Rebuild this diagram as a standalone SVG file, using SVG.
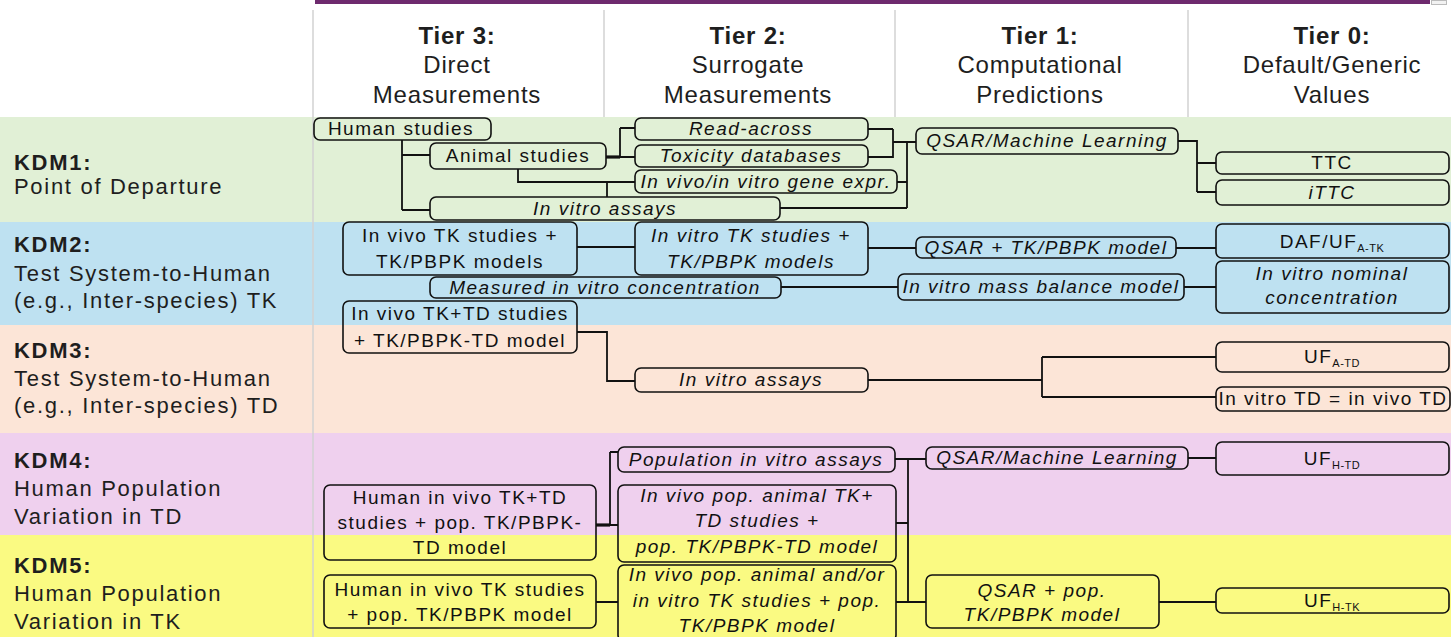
<svg xmlns="http://www.w3.org/2000/svg" width="1451" height="637" viewBox="0 0 1451 637">
  <style>
    .hdr { font-family: "Liberation Sans", Arial, sans-serif; font-size: 24px; fill: #1e1e1e; text-anchor: middle; letter-spacing: 0.8px; }
    .kdm { font-family: "Liberation Sans", Arial, sans-serif; font-size: 22px; fill: #1e1e1e; letter-spacing: 1.7px; }
    .b { font-weight: bold; }
    .node rect { fill: none; stroke: #111; stroke-width: 1.6; }
    .node text { font-family: "Liberation Sans", Arial, sans-serif; font-size: 19px; fill: #111; text-anchor: middle; letter-spacing: 1.5px; }
    .node text.it { font-style: italic; }
    .sub { font-size: 11px; letter-spacing: 0.5px; }
    .conn path { fill: none; stroke: #111; stroke-width: 1.8; }
    .conn path.thick { stroke-width: 3.2; }
    .divider { stroke: #d2d2d2; stroke-width: 1.5; }
  </style>

  <!-- background and KDM bands -->
  <rect x="0" y="0" width="1451" height="637" fill="#ffffff"/>
  <g id="bands">
    <rect x="0" y="117" width="1451" height="105" fill="#e1f0d6"/>
    <rect x="0" y="222" width="1451" height="103" fill="#bee1f1"/>
    <rect x="0" y="325" width="1451" height="108" fill="#fce5d7"/>
    <rect x="0" y="433" width="1451" height="102" fill="#efd0ee"/>
    <rect x="0" y="535" width="1451" height="102" fill="#fafa82"/>
  </g>

  <!-- top rule and column dividers -->
  <rect x="315" y="0" width="1115" height="4" fill="#6e2a6e"/>
  <rect x="1431.5" y="0.5" width="15" height="4" fill="#f2f2f2" stroke="#bbbbbb" stroke-width="1"/>
  <line class="divider" x1="313" y1="10" x2="313" y2="637"/>
  <line class="divider" x1="604" y1="10" x2="604" y2="117"/>
  <line class="divider" x1="895" y1="10" x2="895" y2="117"/>
  <line class="divider" x1="1188" y1="10" x2="1188" y2="117"/>

  <!-- tier headers -->
  <g id="tier-headers">
    <text class="hdr" x="457" y="44"><tspan class="b">Tier 3:</tspan><tspan x="457" y="73">Direct</tspan><tspan x="457" y="103">Measurements</tspan></text>
    <text class="hdr" x="748" y="44"><tspan class="b">Tier 2:</tspan><tspan x="748" y="73">Surrogate</tspan><tspan x="748" y="103">Measurements</tspan></text>
    <text class="hdr" x="1040" y="44"><tspan class="b">Tier 1:</tspan><tspan x="1040" y="73">Computational</tspan><tspan x="1040" y="103">Predictions</tspan></text>
    <text class="hdr" x="1332" y="44"><tspan class="b">Tier 0:</tspan><tspan x="1332" y="73">Default/Generic</tspan><tspan x="1332" y="103">Values</tspan></text>
  </g>

  <!-- row labels -->
  <g id="kdm-labels">
    <text class="kdm" x="14" y="170"><tspan class="b">KDM1:</tspan><tspan x="14" y="194">Point of Departure</tspan></text>
    <text class="kdm" x="14" y="252"><tspan class="b">KDM2:</tspan><tspan x="14" y="281">Test System-to-Human</tspan><tspan x="14" y="308">(e.g., Inter-species) TK</tspan></text>
    <text class="kdm" x="14" y="358"><tspan class="b">KDM3:</tspan><tspan x="14" y="386">Test System-to-Human</tspan><tspan x="14" y="413">(e.g., Inter-species) TD</tspan></text>
    <text class="kdm" x="14" y="468"><tspan class="b">KDM4:</tspan><tspan x="14" y="496">Human Population</tspan><tspan x="14" y="524">Variation in TD</tspan></text>
    <text class="kdm" x="14" y="573"><tspan class="b">KDM5:</tspan><tspan x="14" y="601">Human Population</tspan><tspan x="14" y="629">Variation in TK</tspan></text>
  </g>

  <!-- connectors -->
  <g id="connectors" class="conn">
    <!-- KDM1 -->
    <path d="M402 140 V210 M402 155 H430 M402 210 H430"/>
    <path class="thick" d="M606 157 H620"/>
    <path d="M620 128 V158 M620 128 H635 M620 157 H635"/>
    <path d="M518 169 V182 H635 M607 182 V197"/>
    <path d="M868 129 H893 M868 157 H893 M893 129 V158 M893 142 H916"/>
    <path d="M897 182 H907 M907 142 V208 M780 208 H907"/>
    <path d="M1178 141 H1197 V192 M1197 163 H1216 M1197 192 H1216"/>
    <!-- KDM2 -->
    <path d="M577 247 H635 M868 248 H916 M1176 248 H1216"/>
    <path d="M781 287 H898 M1184 287 H1216"/>
    <!-- KDM3 -->
    <path d="M577 332 H607 V381 H635"/>
    <path d="M868 380 H1042 M1042 357 V397 M1042 357 H1216 M1042 397 H1216"/>
    <!-- KDM4 / KDM5 -->
    <path class="thick" d="M596 525 H610"/>
    <path d="M610 452 V525 M610 452 H618 M610 525 H618"/>
    <path d="M895 459 H926 M908 459 V602 M896 523 H908 M896 602 H926 M596 602 H618"/>
    <path d="M1188 458 H1216 M1159 602 H1216"/>
  </g>

  <!-- KDM1 nodes -->
  <g id="n-human-studies" class="node"><rect x="314" y="118" width="177" height="22" rx="6"/><text x="401" y="135">Human studies</text></g>
  <g id="n-animal-studies" class="node"><rect x="430" y="143" width="176" height="26" rx="6"/><text x="518" y="162">Animal studies</text></g>
  <g id="n-read-across" class="node"><rect x="635" y="118" width="233" height="22" rx="6"/><text class="it" x="751" y="135">Read-across</text></g>
  <g id="n-toxicity-db" class="node"><rect x="635" y="145" width="233" height="22" rx="6"/><text class="it" x="751" y="162">Toxicity databases</text></g>
  <g id="n-gene-expr" class="node"><rect x="635" y="170" width="262" height="23" rx="6"/><text class="it" x="766" y="188">In vivo/in vitro gene expr.</text></g>
  <g id="n-invitro-assays-1" class="node"><rect x="430" y="197" width="350" height="23" rx="6"/><text class="it" x="605" y="215">In vitro assays</text></g>
  <g id="n-qsar-ml-1" class="node"><rect x="916" y="128" width="262" height="26" rx="6"/><text class="it" x="1047" y="147">QSAR/Machine Learning</text></g>
  <g id="n-ttc" class="node"><rect x="1216" y="152" width="233" height="22" rx="6"/><text x="1332" y="169">TTC</text></g>
  <g id="n-ittc" class="node"><rect x="1216" y="180" width="233" height="25" rx="6"/><text class="it" x="1332" y="199">iTTC</text></g>

  <!-- KDM2 nodes -->
  <g id="n-invivo-tk" class="node"><rect x="343" y="222" width="234" height="53" rx="6"/><text x="460" y="242">In vivo TK studies +<tspan x="460" y="268">TK/PBPK models</tspan></text></g>
  <g id="n-invitro-tk" class="node"><rect x="635" y="222" width="233" height="53" rx="6"/><text class="it" x="751" y="242">In vitro TK studies +<tspan x="751" y="268">TK/PBPK models</tspan></text></g>
  <g id="n-qsar-tk" class="node"><rect x="916" y="237" width="260" height="21" rx="6"/><text class="it" x="1046" y="254">QSAR + TK/PBPK model</text></g>
  <g id="n-daf" class="node"><rect x="1216" y="224" width="233" height="34" rx="6"/><text x="1332" y="248">DAF/UF<tspan class="sub" dy="4">A-TK</tspan></text></g>
  <g id="n-measured-conc" class="node"><rect x="430" y="277" width="351" height="21" rx="6"/><text class="it" x="605" y="294">Measured in vitro concentration</text></g>
  <g id="n-mass-balance" class="node"><rect x="898" y="274" width="286" height="26" rx="6"/><text class="it" x="1041" y="293">In vitro mass balance model</text></g>
  <g id="n-nominal-conc" class="node"><rect x="1216" y="261" width="233" height="52" rx="6"/><text class="it" x="1332" y="280">In vitro nominal<tspan x="1332" y="304">concentration</tspan></text></g>

  <!-- KDM3 nodes -->
  <g id="n-invivo-tktd" class="node"><rect x="343" y="301" width="234" height="52" rx="6"/><text x="460" y="320">In vivo TK+TD studies<tspan x="460" y="347">+ TK/PBPK-TD model</tspan></text></g>
  <g id="n-invitro-assays-3" class="node"><rect x="635" y="368" width="233" height="24" rx="6"/><text class="it" x="751" y="386">In vitro assays</text></g>
  <g id="n-uf-atd" class="node"><rect x="1216" y="342" width="233" height="30" rx="6"/><text x="1332" y="363">UF<tspan class="sub" dy="4">A-TD</tspan></text></g>
  <g id="n-td-equal" class="node"><rect x="1216" y="387" width="234" height="24" rx="6"/><text x="1333" y="405">In vitro TD = in vivo TD</text></g>

  <!-- KDM4 nodes -->
  <g id="n-pop-assays" class="node"><rect x="618" y="447" width="277" height="25" rx="6"/><text class="it" x="756" y="466">Population in vitro assays</text></g>
  <g id="n-qsar-ml-4" class="node"><rect x="926" y="447" width="262" height="22" rx="6"/><text class="it" x="1057" y="464">QSAR/Machine Learning</text></g>
  <g id="n-uf-htd" class="node"><rect x="1216" y="442" width="233" height="33" rx="6"/><text x="1332" y="465">UF<tspan class="sub" dy="4">H-TD</tspan></text></g>
  <g id="n-human-tktd" class="node"><rect x="324" y="485" width="272" height="75" rx="6"/><text x="460" y="504">Human in vivo TK+TD<tspan x="460" y="529">studies + pop. TK/PBPK-</tspan><tspan x="460" y="554">TD model</tspan></text></g>
  <g id="n-pop-animal-tktd" class="node"><rect x="618" y="485" width="278" height="77" rx="6"/><text class="it" x="757" y="502">In vivo pop. animal TK+<tspan x="757" y="527">TD studies +</tspan><tspan x="757" y="553">pop. TK/PBPK-TD model</tspan></text></g>

  <!-- KDM5 nodes -->
  <g id="n-human-tk" class="node"><rect x="324" y="575" width="272" height="53" rx="6"/><text x="460" y="596">Human in vivo TK studies<tspan x="460" y="621">+ pop. TK/PBPK model</tspan></text></g>
  <g id="n-pop-animal-tk" class="node"><rect x="618" y="565" width="278" height="76" rx="6"/><text class="it" x="757" y="581">In vivo pop. animal and/or<tspan x="757" y="607">in vitro TK studies + pop.</tspan><tspan x="757" y="632">TK/PBPK model</tspan></text></g>
  <g id="n-qsar-pop" class="node"><rect x="926" y="575" width="233" height="53" rx="6"/><text class="it" x="1042" y="597">QSAR + pop.<tspan x="1042" y="621">TK/PBPK model</tspan></text></g>
  <g id="n-uf-htk" class="node"><rect x="1216" y="588" width="233" height="25" rx="6"/><text x="1332" y="607">UF<tspan class="sub" dy="4">H-TK</tspan></text></g>
</svg>
